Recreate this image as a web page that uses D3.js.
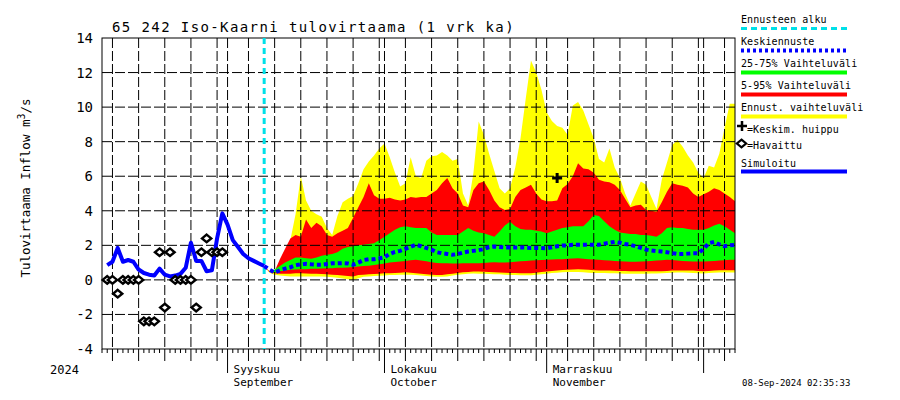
<!DOCTYPE html>
<html><head><meta charset="utf-8">
<script src="https://cdn.jsdelivr.net/npm/d3@7"></script>
<style>body{margin:0;background:#fff}svg{display:block}text{font-family:"DejaVu Sans Mono",monospace;fill:#000}</style>
</head><body><svg id="c" width="900" height="400"></svg>
<script>
// ---------- data ----------
const titleText = "65 242 Iso-Kaarni tulovirtaama (1 vrk ka)";
const yTicks = [14,12,10,8,6,4,2,0,-2,-4];
const monthLabels = [["2024-09-01","Syyskuu","September"],["2024-10-01","Lokakuu","October"],["2024-11-01","Marraskuu","November"]];
const simStart = "2024-08-09";
const simulated = [0.85,1.05,1.85,1.05,1.15,1.05,0.6,0.4,0.3,0.25,0.65,0.3,0.2,0.25,0.35,0.7,2.15,1.1,1.1,0.5,0.55,2.4,3.85,3.2,2.3,1.9,1.5,1.25,1.1,0.95,0.8];
const obsStart = "2024-08-09";
const observed = [0,0,-0.8,0,0,0,0,-2.4,-2.4,-2.4,1.6,-1.6,1.6,0,0,0,0,-1.6,1.6,2.4,1.6,1.6,1.6];
const forecastStart = "2024-09-08";
const median = [0.8,0.6,0.42,0.55,0.65,0.73,0.85,0.9,0.93,0.9,0.88,0.88,0.92,0.96,0.96,0.97,0.95,0.88,1.0,1.15,1.2,1.2,1.25,1.31,1.5,1.62,1.68,1.8,1.92,2.03,1.95,1.85,1.75,1.6,1.54,1.5,1.45,1.5,1.58,1.64,1.68,1.72,1.78,1.9,1.93,1.9,1.88,1.87,1.87,1.87,1.87,1.85,1.85,1.84,1.83,1.88,1.95,1.99,2.0,2.03,2.03,2.03,2.03,2.03,2.03,2.1,2.15,2.2,2.15,2.08,2.03,1.95,1.85,1.75,1.7,1.66,1.64,1.6,1.55,1.5,1.5,1.52,1.54,1.54,1.8,2.12,2.2,2.05,1.95,2.0,2.03];
const greenHigh = [0.8,0.5,0.6,0.8,1.0,1.15,1.3,1.3,1.25,1.22,1.3,1.4,1.45,1.5,1.6,1.8,1.9,1.95,2.0,2.03,2.08,2.12,2.3,2.5,2.7,2.9,3.05,3.1,3.05,3.0,3.0,3.0,2.75,2.6,2.6,2.6,2.6,2.6,2.8,3.0,2.85,2.75,2.7,2.6,2.5,2.8,3.15,3.37,3.1,2.95,2.9,2.9,2.85,2.8,2.7,2.8,2.9,3.0,3.05,3.1,3.1,3.1,3.4,3.76,3.7,3.4,3.1,2.9,2.75,2.7,2.65,2.65,2.6,2.6,2.55,2.5,2.7,3.0,3.05,3.0,3.0,2.95,2.9,2.9,2.9,3.0,3.15,3.25,3.1,2.9,2.7];
const greenLow = [0.8,0.5,0.42,0.5,0.55,0.58,0.6,0.62,0.62,0.64,0.65,0.66,0.68,0.68,0.7,0.7,0.72,0.74,0.77,0.8,0.82,0.86,0.9,0.95,1.0,1.03,1.06,1.1,1.14,1.16,1.12,1.08,1.02,0.98,0.96,0.96,0.95,0.95,0.96,0.97,0.96,0.96,0.98,1.0,1.02,1.0,1.0,1.02,1.05,1.08,1.1,1.12,1.14,1.15,1.16,1.18,1.2,1.2,1.22,1.24,1.25,1.22,1.2,1.18,1.16,1.14,1.12,1.1,1.08,1.06,1.05,1.05,1.06,1.08,1.1,1.12,1.14,1.16,1.15,1.12,1.1,1.08,1.07,1.06,1.06,1.08,1.1,1.12,1.14,1.16,1.16];
const redHigh = [0.8,0.5,0.5,1.2,1.8,2.4,2.6,2.5,3.5,3.0,3.3,3.1,2.6,2.5,2.7,2.85,3.0,3.6,4.2,4.8,5.6,4.9,4.7,4.7,4.75,4.65,4.6,4.65,4.8,4.75,4.8,4.8,5.0,5.2,5.6,5.9,5.3,5.0,4.3,4.2,5.2,5.6,5.7,5.2,4.6,4.2,4.05,4.1,4.8,5.2,5.35,5.5,5.0,4.65,4.55,4.55,4.6,5.3,5.55,6.0,6.75,6.45,6.4,6.2,5.8,5.7,5.65,5.5,5.2,4.7,4.2,4.3,4.35,4.05,4.0,3.95,4.5,5.1,5.6,5.5,5.45,5.35,5.0,4.8,4.95,5.1,5.3,5.2,5.0,4.8,4.55];
const redLow = [0.8,0.45,0.38,0.35,0.35,0.36,0.38,0.38,0.37,0.36,0.35,0.34,0.32,0.3,0.28,0.25,0.22,0.2,0.28,0.3,0.32,0.34,0.36,0.38,0.39,0.4,0.42,0.44,0.42,0.39,0.36,0.33,0.3,0.29,0.29,0.32,0.36,0.4,0.44,0.46,0.48,0.48,0.47,0.45,0.44,0.43,0.42,0.4,0.4,0.39,0.39,0.39,0.42,0.45,0.48,0.52,0.55,0.57,0.58,0.6,0.62,0.6,0.58,0.56,0.55,0.55,0.54,0.53,0.52,0.52,0.5,0.5,0.5,0.5,0.5,0.5,0.5,0.52,0.55,0.55,0.55,0.55,0.54,0.52,0.5,0.52,0.55,0.56,0.56,0.56,0.56];
const yellowHigh = [0.8,0.5,0.45,1.1,1.4,2.3,3.8,6.0,4.6,4.0,3.8,3.65,3.0,2.6,3.7,4.5,4.7,4.85,5.6,6.4,6.85,7.2,7.6,7.9,7.1,6.2,5.4,5.6,7.1,6.0,5.9,6.9,7.15,7.2,7.4,7.2,6.9,7.0,5.0,4.3,6.2,9.16,8.4,7.3,6.3,5.3,5.0,5.3,6.5,8.2,10.5,12.7,12.0,11.0,9.7,9.2,8.9,8.8,8.4,10.1,10.3,9.8,9.0,8.2,7.0,6.8,7.6,6.5,5.9,5.0,4.3,5.0,5.7,5.5,4.8,4.1,5.8,6.8,7.8,8.1,7.7,7.2,6.8,6.2,5.9,6.6,6.5,7.3,8.8,10.2,10.2];
const yellowLow = [0.8,0.42,0.3,0.25,0.22,0.2,0.2,0.19,0.2,0.2,0.2,0.19,0.18,0.15,0.12,0.08,0.03,0.0,0.1,0.18,0.2,0.22,0.24,0.26,0.28,0.28,0.3,0.3,0.3,0.28,0.25,0.22,0.2,0.18,0.18,0.2,0.25,0.3,0.32,0.35,0.37,0.36,0.35,0.34,0.33,0.32,0.3,0.28,0.28,0.27,0.27,0.27,0.3,0.33,0.36,0.4,0.42,0.44,0.45,0.45,0.45,0.44,0.42,0.4,0.4,0.4,0.39,0.38,0.37,0.36,0.35,0.35,0.35,0.36,0.37,0.37,0.38,0.4,0.42,0.43,0.43,0.42,0.4,0.38,0.37,0.4,0.42,0.43,0.43,0.43,0.43];
const peakDate = "2024-11-03", peakValue = 5.9;
const stamp = "08-Sep-2024 02:35:33";
const legendItems = ["Ennusteen alku","Keskiennuste","25-75% Vaihteluväli","5-95% Vaihteluväli","Ennust. vaihteluväli","=Keskim. huippu","=Havaittu","Simuloitu"];

// ---------- chart ----------
const svg = d3.select("#c");
const L=102,R=735,T=38,B=349;
const parse = d3.utcParse("%Y-%m-%d");
const x0 = parse("2024-08-08"), x1 = parse("2024-12-07");
const x = d3.scaleUtc().domain([x0,x1]).range([L,R]);
const y = d3.scaleLinear().domain([-4,14]).range([B,T]);
const day = (s,i)=>d3.utcDay.offset(parse(s),i);

const fc = median.map((m,i)=>({d:day(forecastStart,i),m,gl:greenLow[i],gh:greenHigh[i],rl:redLow[i],rh:redHigh[i],yl:yellowLow[i],yh:yellowHigh[i]}));
const band = (lo,hi)=>d3.area().x(d=>x(d.d)).y0(d=>y(d[lo])).y1(d=>y(d[hi]));
svg.append("path").datum(fc).attr("d",band("yl","yh")).attr("fill","#ffff00");
svg.append("path").datum(fc).attr("d",band("rl","rh")).attr("fill","#ff0000");
svg.append("path").datum(fc).attr("d",band("gl","gh")).attr("fill","#00ff00");

// grid
const g = svg.append("g").attr("stroke","#000").attr("stroke-width",1).attr("stroke-dasharray","10,3");
const days = d3.utcDay.range(x0, d3.utcDay.offset(x1,1));
days.forEach(d=>{
  const dd=d.getUTCDate();
  if(dd===1||dd%5===0){ g.append("line").attr("x1",x(d)).attr("x2",x(d)).attr("y1",T).attr("y2",B); }
});
yTicks.filter(v=>v>-4&&v<14).forEach(v=>g.append("line").attr("x1",L).attr("x2",R).attr("y1",y(v)).attr("y2",y(v)));

// axis ticks
const ax = svg.append("g").attr("stroke","#000").attr("stroke-width",1);
days.forEach(d=>{
  const dd=d.getUTCDate(); let len=4;
  if(dd%5===0) len=12;
  if(dd===1) len=24;
  ax.append("line").attr("x1",x(d)).attr("x2",x(d)).attr("y1",B).attr("y2",B+len);
});
// frame
svg.append("rect").attr("x",L).attr("y",T).attr("width",R-L).attr("height",B-T).attr("fill","none").attr("stroke","#000").attr("stroke-width",1);

// forecast start
svg.append("line").attr("x1",x(parse(forecastStart))).attr("x2",x(parse(forecastStart))).attr("y1",T).attr("y2",B)
  .attr("stroke","#00e0e8").attr("stroke-width",3).attr("stroke-dasharray","6,4");

// median
svg.append("path").datum(fc).attr("d",d3.line().x(d=>x(d.d)).y(d=>y(d.m))).attr("fill","none")
  .attr("stroke","#0000ff").attr("stroke-width",4).attr("stroke-dasharray","4,3");

// simulated
svg.append("path").datum(simulated).attr("d",d3.line().x((v,i)=>x(day(simStart,i))).y(v=>y(v))).attr("fill","none")
  .attr("stroke","#0000ff").attr("stroke-width",4).attr("stroke-linejoin","round");

// observed diamonds
const dia = "M0,-3.8L4.6,0L0,3.8L-4.6,0Z";
svg.append("g").selectAll("path").data(observed).join("path").attr("d",dia)
  .attr("transform",(v,i)=>`translate(${x(day(obsStart,i))},${y(v)})`)
  .attr("fill","#fff").attr("stroke","#000").attr("stroke-width",2.4);

// peak plus
const plus = "M-5,0H5M0,-5V5";
svg.append("path").attr("d",plus).attr("transform",`translate(${x(parse(peakDate))},${y(peakValue)})`).attr("stroke","#000").attr("stroke-width",3);

// y ticks labels
svg.append("g").selectAll("text").data(yTicks).join("text").attr("x",93).attr("y",v=>y(v)+5)
  .attr("text-anchor","end").attr("font-size",14).text(v=>v);

// title
svg.append("text").attr("x",112).attr("y",32).attr("font-size",14).attr("letter-spacing",1.4).text(titleText);

// y label
const yl = svg.append("text").attr("transform","translate(30,188) rotate(-90)").attr("text-anchor","middle").attr("font-size",12.5);
yl.append("tspan").text("Tulovirtaama Inflow m");
yl.append("tspan").attr("dy",-5).attr("font-size",10).text("3");
yl.append("tspan").attr("dy",5).text("/s");

// month labels
svg.append("text").attr("x",50).attr("y",374).attr("font-size",12).text("2024");
monthLabels.forEach(([d,fi,en])=>{
  svg.append("text").attr("x",x(parse(d))+6).attr("y",373).attr("font-size",11).text(fi);
  svg.append("text").attr("x",x(parse(d))+6).attr("y",386).attr("font-size",11).text(en);
});
svg.append("text").attr("x",742).attr("y",386).attr("font-size",9).text(stamp);

// legend
const lg = svg.append("g");
const lx0=741, lx1=847;
const lt = (t,xx,yy)=>lg.append("text").attr("x",xx).attr("y",yy).attr("font-size",10).attr("letter-spacing",0.1).text(t);
lt(legendItems[0],741,23);
lg.append("line").attr("x1",lx0).attr("x2",lx1).attr("y1",28.5).attr("y2",28.5).attr("stroke","#00e0e8").attr("stroke-width",3).attr("stroke-dasharray","6,4");
lt(legendItems[1],741,45);
lg.append("line").attr("x1",lx0).attr("x2",lx1).attr("y1",50.5).attr("y2",50.5).attr("stroke","#0000ff").attr("stroke-width",4).attr("stroke-dasharray","3,3");
lt(legendItems[2],741,67);
lg.append("line").attr("x1",lx0).attr("x2",lx1).attr("y1",72.5).attr("y2",72.5).attr("stroke","#00ff00").attr("stroke-width",4);
lt(legendItems[3],741,89);
lg.append("line").attr("x1",lx0).attr("x2",lx1).attr("y1",94.5).attr("y2",94.5).attr("stroke","#ff0000").attr("stroke-width",4);
lt(legendItems[4],741,111);
lg.append("line").attr("x1",lx0).attr("x2",lx1).attr("y1",116.5).attr("y2",116.5).attr("stroke","#ffff00").attr("stroke-width",4);
lg.append("path").attr("d",plus).attr("transform","translate(742,126)").attr("stroke","#000").attr("stroke-width",2.5);
lt(legendItems[5],747,133);
lg.append("path").attr("d",dia).attr("transform","translate(741.5,143.5)").attr("fill","#fff").attr("stroke","#000").attr("stroke-width",2.2);
lt(legendItems[6],747,149);
lt(legendItems[7],741,167);
lg.append("line").attr("x1",lx0).attr("x2",lx1).attr("y1",171.5).attr("y2",171.5).attr("stroke","#0000ff").attr("stroke-width",4);
</script></body></html>
